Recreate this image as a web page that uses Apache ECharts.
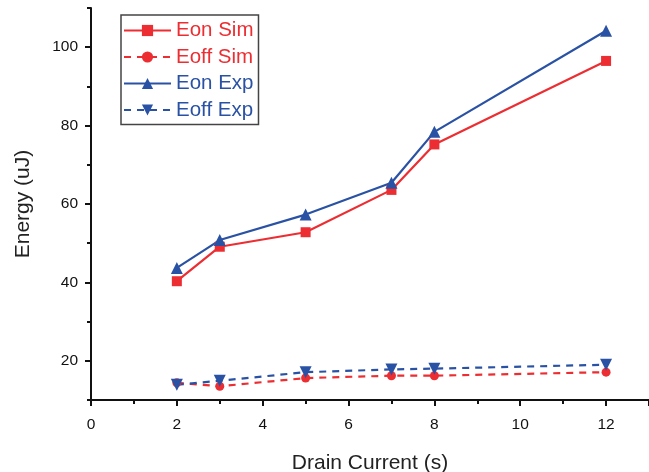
<!DOCTYPE html>
<html>
<head>
<meta charset="utf-8">
<script src="https://cdn.jsdelivr.net/npm/echarts@6/dist/echarts.min.js"></script>
<style>
  html, body { margin: 0; padding: 0; background: #fff; }
  #mychart { width: 649px; height: 472px; }
</style>
</head>
<body>
<div id="mychart"></div>
<script>
var current = [2, 3, 5, 7, 8, 12]
var names = ['Eon Sim', 'Eoff Sim', 'Eon Exp', 'Eoff Exp']
var eonSim = [40.3, 49.1, 52.8, 63.6, 75.2, 96.5]
var eoffSim = [14.4, 13.5, 15.6, 16.2, 16.2, 17.1]
var eonExp = [43.7, 50.8, 57.3, 65.4, 78.4, 104.2]
var eoffExp = [13.9, 14.9, 17.1, 17.8, 18.0, 19.0]
var yLabels = [20, 40, 60, 80, 100]

var red = '#ec2d31'
var blue = '#2a52a4'

function pairs(vals) {
    var out = []
    for (var i = 0; i < current.length; i++) {
        out.push([current[i], vals[i]])
    }
    return out
}

function makeSeries(name, vals, color, dashed, symbol, rotate, size) {
    return {
        name: name,
        type: 'line',
        data: pairs(vals),
        color: color,
        symbol: symbol,
        symbolSize: size,
        symbolRotate: rotate,
        lineStyle: {
            width: 2.2,
            type: dashed ? [7, 6] : 'solid'
        },
        itemStyle: { color: color },
        emphasis: { disabled: true },
        z: 3
    }
}

var myChart = echarts.init(document.getElementById('mychart'))
var font = 'Liberation Sans, Arial, sans-serif'

var option = {
    backgroundColor: '#fff',
    animation: false,
    textStyle: { fontFamily: font },
    legend: {
        orient: 'vertical',
        left: 121,
        top: 15,
        padding: [5, 5, 4, 2],
        borderColor: '#444',
        borderWidth: 1.5,
        itemWidth: 47,
        itemHeight: 14,
        itemGap: 5.5,
        data: [
            { name: names[0], textStyle: { color: red } },
            { name: names[1], textStyle: { color: red } },
            { name: names[2], textStyle: { color: blue } },
            { name: names[3], textStyle: { color: blue } }
        ],
        textStyle: { fontSize: 20.5, fontFamily: font, padding: [0, 0, 0, 0] }
    },
    grid: {
        left: 91,
        right: 0,
        top: 8,
        bottom: 72,
        containLabel: false,
        outerBoundsMode: 'none'
    },
    xAxis: {
        type: 'value',
        min: 0,
        max: 13,
        interval: 2,
        name: 'Drain Current (s)',
        nameLocation: 'middle',
        nameGap: 53,
        nameTextStyle: { fontSize: 21, color: '#222' },
        axisLine: { onZero: false, lineStyle: { color: '#111', width: 2 } },
        axisTick: { length: 6, lineStyle: { color: '#111', width: 2 } },
        minorTick: { show: true, splitNumber: 2, length: 4, lineStyle: { color: '#111', width: 2 } },
        axisLabel: {
            fontSize: 15.5,
            color: '#111',
            margin: 17,
            showMaxLabel: false
        },
        splitLine: { show: false }
    },
    yAxis: [{
        type: 'value',
        min: 10,
        max: 110,
        name: 'Energy (uJ)',
        nameLocation: 'middle',
        nameGap: 57,
        nameTextStyle: { fontSize: 21, color: '#222' },
        axisLine: { show: true, lineStyle: { color: '#111', width: 2 } },
        axisTick: { show: true, length: 6, customValues: yLabels, lineStyle: { color: '#111', width: 2 } },
        axisLabel: { fontSize: 15.5, color: '#111', margin: 13, customValues: yLabels },
        splitLine: { show: false }
    }, {
        // short ticks every 10
        type: 'value',
        min: 10,
        max: 110,
        interval: 10,
        position: 'left',
        axisLine: { show: false },
        axisTick: { show: true, length: 4, lineStyle: { color: '#111', width: 2 } },
        axisLabel: { show: false },
        splitLine: { show: false }
    }],
    series: [
        makeSeries(names[0], eonSim, red, false, 'rect', 0, 10),
        makeSeries(names[1], eoffSim, red, true, 'circle', 0, 9),
        makeSeries(names[2], eonExp, blue, false, 'triangle', 0, 12),
        makeSeries(names[3], eoffExp, blue, true, 'triangle', 180, 12)
    ]
}
myChart.setOption(option)
</script>
</body>
</html>
